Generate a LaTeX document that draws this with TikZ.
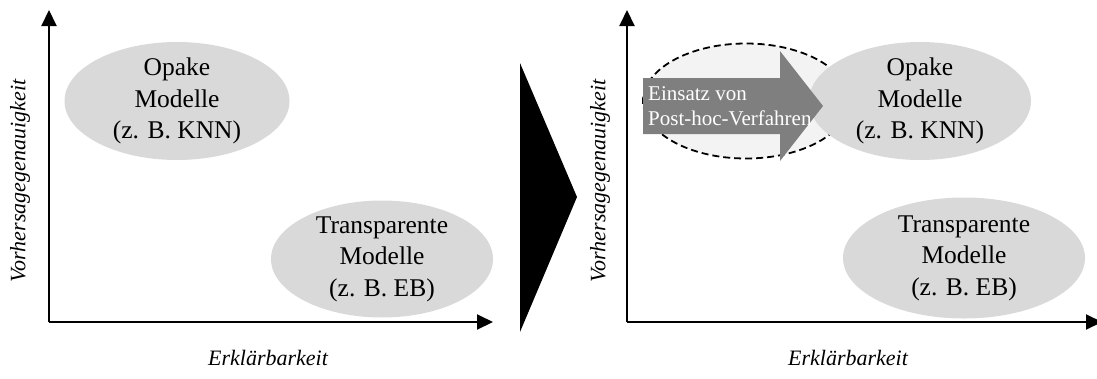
\documentclass[tikz,border=0pt]{standalone}
\usepackage{fontspec}
\setmainfont{Liberation Serif}
\usetikzlibrary{arrows.meta,shapes.geometric}
\definecolor{modelgray}{RGB}{217,217,217}
\definecolor{halogray}{RGB}{243,243,243}
\definecolor{arrowgray}{RGB}{127,127,127}
\tikzset{
  axis/.style={line width=2pt,-{Triangle[length=16pt,width=15pt]}},
  modelblob/.style={ellipse,fill=modelgray,inner sep=0pt,draw=none},
  modeltext/.style={align=center,inner sep=0pt,font=\fontsize{25.5}{31.5}\selectfont},
  axislabel/.style={inner sep=0pt,font=\fontsize{22}{26}\selectfont\itshape},
  methodtext/.style={align=left,inner sep=0pt,text=white,font=\fontsize{21}{25}\selectfont},
}
\begin{document}
\begin{tikzpicture}[x=1pt,y=-1pt]
\useasboundingbox (0,0) rectangle (1097,378);

% ---- left chart ----
\coordinate (lo) at (49,322);
\coordinate (ly) at (49,10);
\coordinate (lx) at (493,322);
\node[modelblob,minimum width=225pt,minimum height=118pt] (lop) at (177,101) {};
\node[modeltext] (loptxt) at (lop) {Opake\\Modelle\\(z. B. KNN)};
\node[modelblob,minimum width=222pt,minimum height=117pt] (ltr) at (382,259) {};
\node[modeltext] (ltrtxt) at (ltr) {Transparente\\Modelle\\(z. B. EB)};
\draw[axis] (lo) -- (ly);
\draw[axis] (lo) -- (lx);
\node[axislabel,rotate=90] (lylab) at (20,181) {Vorhersagegenauigkeit};
\node[axislabel] (lxlab) at (268,358) {Erklärbarkeit};

% ---- transition triangle ----
\fill[black] (520,63) -- (577,197) -- (520,332) -- cycle;

% ---- right chart ----
\coordinate (ro) at (627,322);
\coordinate (ry) at (627,10);
\coordinate (rx) at (1102,322);
\node[ellipse,fill=halogray,draw=black,line width=1.8pt,dash pattern=on 7pt off 4pt,
      minimum width=206pt,minimum height=115pt,inner sep=0pt] (halo) at (746,101) {};
\node[modelblob,minimum width=222pt,minimum height=118pt] (rop) at (920,101) {};
\node[modeltext] (roptxt) at (rop) {Opake\\Modelle\\(z. B. KNN)};
\node[modelblob,minimum width=242pt,minimum height=121pt] (rtr) at (964,258) {};
\node[modeltext] (rtrtxt) at (rtr) {Transparente\\Modelle\\(z. B. EB)};
\fill[arrowgray] (643,78) -- (780,78) -- (780,51) -- (823,106) -- (780,161)
  -- (780,134) -- (643,134) -- cycle;
\node[methodtext,anchor=west] (method) at (648,106) {Einsatz von\\Post-hoc-Verfahren};
\draw[axis] (ro) -- (ry);
\draw[axis] (ro) -- (rx);
\node[axislabel,rotate=90] (rylab) at (600,181) {Vorhersagegenauigkeit};
\node[axislabel] (rxlab) at (848,358) {Erklärbarkeit};
\end{tikzpicture}
\end{document}
